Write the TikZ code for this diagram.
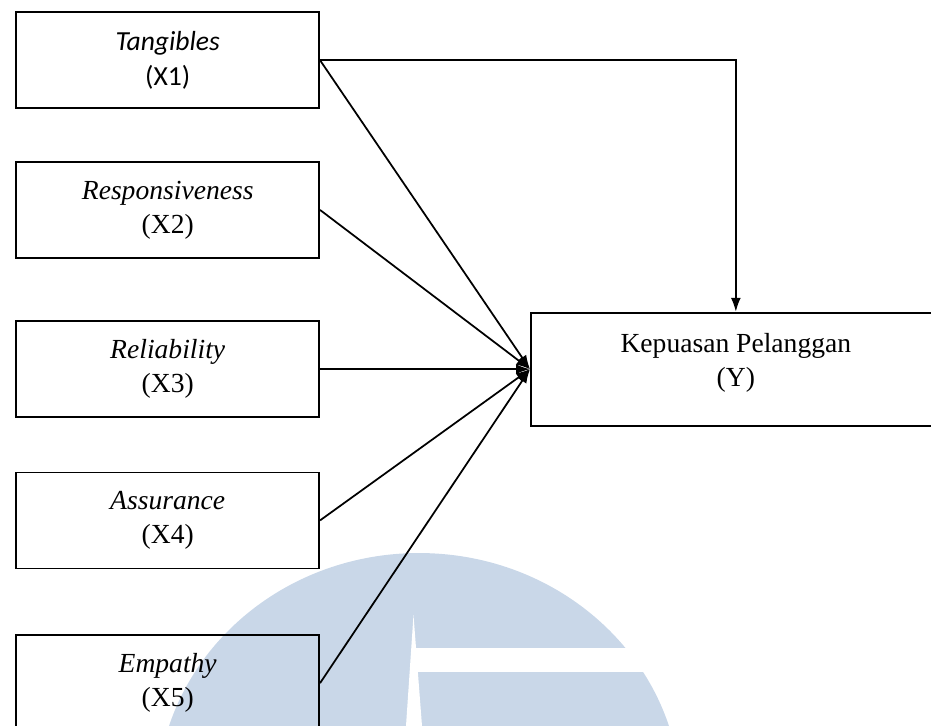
\documentclass[tikz,border=0pt]{standalone}
\usepackage{fontspec}
\setmainfont{Liberation Serif}
\newfontfamily\calibrifont{Carlito}
\usetikzlibrary{shapes,arrows,arrows.meta}
\definecolor{wmblue}{RGB}{201,215,232}

\begin{document}
\begin{tikzpicture}[x=0.02cm, y=-0.02cm,
      block_var/.style ={rectangle, draw=black, line width=1pt,
        minimum width=6.06cm, minimum height=1.92cm, align=center,
        inner sep=2pt, font=\fontsize{15.7}{19.5}\selectfont},
      block_dep/.style ={block_var, minimum width=8.2cm, minimum height=2.26cm},
      watermark/.style ={fill=wmblue, draw=none},
      line/.style ={draw, line width=1pt, -{Latex[length=0.28cm,width=0.2cm]}, shorten >=0pt}]
    \clip (0,0) rectangle (931,726);
    %
    % 0. the faded logo behind the figure
    \fill[watermark] (419,800) ellipse [x radius=5.24cm, y radius=4.94cm];
    \fill[white] (413.5,615) -- (422,726) -- (406,726) -- cycle;
    \fill[white] (415,648) rectangle (700,672);
    %
    % 1. the variables, placed with a matrix
    \matrix [column sep=4.2cm, inner sep=0pt, nodes={anchor=center},
      anchor=north west] at (15,11) {
      % independent - row 1
      \node [block_var] (x1) {{\calibrifont\itshape Tangibles}\\{\calibrifont (X1)}}; \\[1.04cm]
      % independent - row 2
      \node [block_var] (x2) {\textit{Responsiveness}\\(X2)}; \\[1.06cm]
      % independent - row 3, with the dependent variable
      \node [block_var] (x3) {\textit{Reliability}\\(X3)};
      & \node [block_dep] (y) {Kepuasan Pelanggan\\(Y)\rule[-0.38cm]{0pt}{0pt}}; \\[0.9cm]
      % independent - row 4
      \node [block_var] (x4) {\textit{Assurance}\\(X4)}; \\[1.3cm]
      % independent - row 5
      \node [block_var] (x5) {\textit{Empathy}\\(X5)}; \\
    };% end matrix
    %
    % 2. connecting the variables
    \begin{scope}[every path/.style=line]
      \path (x1.east) -| (y.north);
      \path (x1.east) -- (y.west);
      \path (x2.east) -- (y.west);
      \path (x3.east) -- (y.west);
      \path (x4.east) -- (y.west);
      \path (x5.east) -- (y.west);
    \end{scope}
\end{tikzpicture}
\end{document}
